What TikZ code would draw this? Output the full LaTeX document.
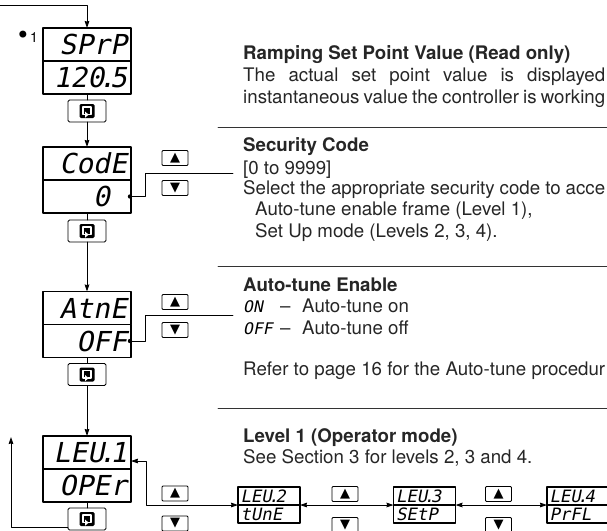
\documentclass[tikz,border=0pt]{standalone}
\usepackage{fontspec}
\setmainfont{TeX Gyre Heros}
\newfontfamily\lcdfont[FakeSlant=0.2,FakeStretch=1.02]{DejaVu Sans Mono}
\newfontfamily\symfont{DejaVu Sans}
\usepackage{tikz}
\usetikzlibrary{arrows.meta, positioning}

\newcommand\lcddot{\kern-.2em.\kern-.2em}

\tikzset{
	scrollkey/.pic={
		\fill[rounded corners=1.4pt] (-7.5,-7) rectangle (7.5,7);
		\draw[white, line width=1.5pt, line cap=butt] (1.4,3.6) -- (4,3.6) -- (4,-3.8) -- (-4,-3.8) -- (-4,3.6) -- (-1,3.6);
		\fill[white] (-1.8,0.6) -- (-1.8,6.6) -- (1.6,3.7) -- cycle;
	}
}

\begin{document}
\begin{tikzpicture}[x=1pt, y=-1pt, line cap=round, line join=round,
	>={Stealth[length=7pt, width=4.6pt, inset=0.6pt]},
	lcdrow/.style={draw, line width=1.8pt, outer sep=0pt, inner xsep=4pt, inner ysep=0pt,
		minimum height=33pt, text width=80pt, align=right, text height=20pt, text depth=0pt,
		font=\lcdfont\fontsize{27.5}{27.5}\selectfont},
	lcdsmallrow/.style={draw, line width=1.1pt, outer sep=0pt, inner xsep=2.5pt, inner ysep=0pt,
		minimum height=18pt, text width=57pt, align=left, text height=12.5pt, text depth=0pt,
		font=\lcdfont\fontsize{17}{17}\selectfont},
	keybox/.style={draw, line width=0.8pt, rounded corners=1.5pt, outer sep=0pt,
		minimum width=38pt, minimum height=22pt, inner sep=0pt},
	arrowkey/.style={draw, line width=0.8pt, rounded corners=1pt, outer sep=0pt,
		minimum width=26pt, minimum height=15pt, inner sep=0pt,
		font=\symfont\fontsize{13}{13}\selectfont},
	textline/.style={anchor=base west, inner sep=0pt, text=black!85,
		font=\fontsize{18.7}{21}\selectfont},
	headline/.style={textline, font=\fontsize{18.7}{21}\selectfont\bfseries},
	lcdtext/.style={anchor=base west, inner sep=0pt, font=\lcdfont\fontsize{16}{16}\selectfont},
	rule/.style={line width=0.8pt, black!80}
]
\useasboundingbox (0,0) rectangle (607,530);
\clip (0,0) rectangle (607,530);

% main column of displays
\node[lcdrow] (sprp) at (87,44.5) {SPrP};
\node[lcdrow, below=0pt of sprp] (sprpval) {120\lcddot5};
\node[keybox, below=6pt of sprpval] (key1) {};
\pic at (key1) {scrollkey};

\node[lcdrow] (code) at (87,163.5) {CodE};
\node[lcdrow, below=0pt of code] (codeval) {0\phantom{0}};
\node[keybox, below=7pt of codeval] (key2) {};
\pic at (key2) {scrollkey};

\node[lcdrow] (atne) at (87,308) {AtnE};
\node[lcdrow, below=0pt of atne] (atneval) {OFF};
\node[keybox, below=6pt of atneval] (key3) {};
\pic at (key3) {scrollkey};

\node[lcdrow] (leu1) at (87,452.5) {LEU\lcddot1};
\node[lcdrow, below=0pt of leu1] (leu1val) {OPEr};
\node[keybox, below=6pt of leu1val] (key4) {};
\pic at (key4) {scrollkey};

\node[anchor=base east, inner sep=0pt, font=\fontsize{14}{14}\selectfont] (stepno) at (38,42) {{\symfont\fontsize{24}{24}\selectfont\raisebox{-1.5pt}{•}}1};

% level displays along the bottom
\node[lcdsmallrow] (leu2) at (269,496) {LEU\lcddot2};
\node[lcdsmallrow, below=0pt of leu2] (leu2val) {tUnE};
\node[lcdsmallrow] (leu3) at (424.5,496) {LEU\lcddot3};
\node[lcdsmallrow, below=0pt of leu3] (leu3val) {SEtP};
\node[lcdsmallrow] (leu4) at (578,496) {LEU\lcddot4};
\node[lcdsmallrow, below=0pt of leu4] (leu4val) {PrFL};

% up / down keys
\node[arrowkey] (codeup) at (175,158) {▲};
\node[arrowkey] (codedown) at (175,188) {▼};
\node[arrowkey] (atneup) at (175,302) {▲};
\node[arrowkey] (atnedown) at (175,330) {▼};
\node[arrowkey] (leuup) at (175,493.5) {▲};
\node[arrowkey] (leudown) at (175,523.5) {▼};
\node[arrowkey] (ltwoup) at (345,494) {▲};
\node[arrowkey] (ltwodown) at (345,525) {▼};
\node[arrowkey] (lthreeup) at (498.5,494) {▲};
\node[arrowkey] (lthreedown) at (498.5,525) {▼};

% flow
\coordinate (entry) at (0,5);
\coordinate (loopend) at (11,437);
\draw[line width=0.8pt, ->] (entry) -| (sprp.north);
\draw[line width=0.8pt] (sprpval) -- (key1);
\draw[line width=0.8pt, ->] (key1) -- (code);
\draw[line width=0.8pt] (codeval) -- (key2);
\draw[line width=0.8pt, ->] (key2) -- (atne);
\draw[line width=0.8pt] (atneval) -- (key3);
\draw[line width=0.8pt, ->] (key3) -- (leu1);
\draw[line width=0.8pt] (leu1val) -- (key4);
\draw[line width=0.8pt, ->] ([yshift=-8pt]key4.west) -| (loopend);

% value leaders
\coordinate (codetip) at (233,173);
\coordinate (atnetip) at (233,315);
\fill ([xshift=-1pt]codeval.east) circle (2.2pt);
\draw[line width=0.8pt] ([xshift=-1pt]codeval.east) -- ++(15,0) |- (codetip);
\fill ([xshift=-1pt]atneval.east) circle (2.2pt);
\draw[line width=0.8pt] ([xshift=-1pt]atneval.east) -- ++(15,0) |- (atnetip);

% level links
\draw[line width=0.8pt, <->] ([yshift=8pt]leu1.south east) -- ++(15,0) |- (leu2.south west);
\draw[line width=0.8pt, <->] (leu2.south east) -- (leu3.south west);
\draw[line width=0.8pt, <->] (leu3.south east) -- (leu4.south west);

% descriptions
\node[headline] (ramphead) at (243,59) {Ramping Set Point Value (Read only)};
\node[textline] (ramptxta) at (243,81.5) {\makebox[362pt][s]{The actual set point value is displayed}};
\node[textline] (ramptxtb) at (243,103) {\makebox[362pt][s]{instantaneous value the controller is working}};
\draw[rule] (218,127) -- (607,127);

\node[headline] (codehead) at (243,151) {Security Code};
\node[textline] (codetxta) at (243,174) {[0 to 9999]};
\node[textline] (codetxtb) at (243,194.5) {\makebox[362pt][s]{Select the appropriate security code to acce}};
\node[textline] (codetxtc) at (255,215.5) {Auto-tune enable frame (Level 1),};
\node[textline] (codetxtd) at (255,237) {Set Up mode (Levels 2, 3, 4).};
\draw[rule] (218,266) -- (607,266);

\node[headline] (atnehead) at (243,291) {Auto-tune Enable};
\node[lcdtext] (onlbl) at (243,312.5) {ON};
\node[textline] (ondash) at (280,312.5) {–};
\node[textline] (ontxt) at (302,312.5) {Auto-tune on};
\node[lcdtext] (offlbl) at (243,334) {OFF};
\node[textline] (offdash) at (280,334) {–};
\node[textline] (offtxt) at (302,334) {Auto-tune off};
\node[textline] (atnetxt) at (243,375) {\makebox[362pt][s]{Refer to page 16 for the Auto-tune procedur}};
\draw[rule] (218,408) -- (607,408);

\node[headline] (leuhead) at (243,442) {Level 1 (Operator mode)};
\node[textline] (leutxt) at (243,463.5) {See Section 3 for levels 2, 3 and 4.};
\end{tikzpicture}
\end{document}
